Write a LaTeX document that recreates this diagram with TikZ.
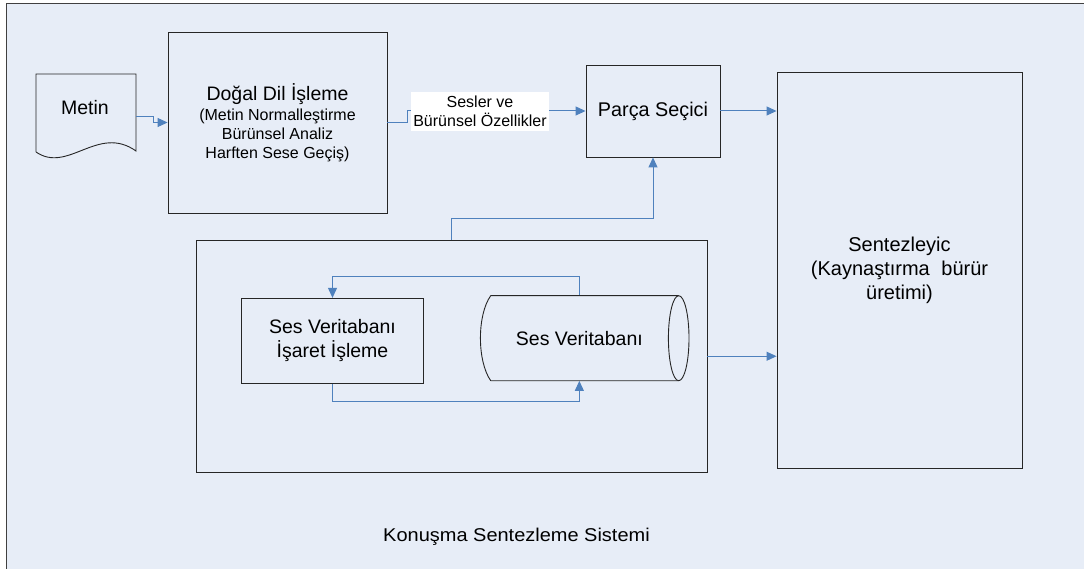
\documentclass[tikz,border=0pt]{standalone}
\usepackage{fontspec}
\setmainfont{Liberation Sans}
\usetikzlibrary{arrows.meta,calc}
\definecolor{bgblue}{RGB}{231,237,247}
\definecolor{lineblue}{RGB}{79,129,189}
\begin{document}
\begin{tikzpicture}[x=1pt,y=-1pt,
  box/.style={draw=black!85,line width=0.9pt,rectangle,inner sep=0pt,align=center},
  shapeline/.style={draw=black!85,line width=0.9pt},
  arr/.style={draw=lineblue,line width=1pt,-{Triangle[length=10pt,width=9pt]}},
  bigtxt/.style={font=\fontsize{19.5}{24}\selectfont},
  smalltxt/.style={font=\fontsize{16}{18.5}\selectfont}]
\useasboundingbox (0,0) rectangle (1084,569);
\fill[white] (0,0) rectangle (1084,569);
\fill[bgblue] (6,3.7) rectangle (1084,569);
\draw[black!75,line width=1.3pt] (6.2,569) -- (6.2,3.7) -- (1084,3.7);

% Metin document
\draw[shapeline] (36,152) -- (36,74) -- (136,74) -- (136,151) .. controls (98,124) and (68,174) .. (36,152);
\node[bigtxt,anchor=base] (metin) at (85,115) {Metin};
\coordinate (metinR) at (136,117);

% Natural language processing
\node[box,minimum width=219pt,minimum height=181pt,font=\fontsize{16}{19}\selectfont] (nlp) at (277.5,122.5)
  {{\fontsize{19.5}{19}\selectfont Doğal Dil İşleme}\\[1.5pt](Metin Normalleştirme\\Bürünsel Analiz\\Harften Sese Geçiş)};

% Parca secici
\node[box,minimum width=134pt,minimum height=92pt,font=\fontsize{19.8}{24}\selectfont] (parca) at (653,111) {Parça Seçici};

% Sentezleyici
\node[box,minimum width=245pt,minimum height=396pt,font=\fontsize{20}{24}\selectfont] (sentez) at (899.5,270)
  {Sentezleyic\\(Kaynaştırma\hspace{0.3em} bürür\\üretimi)};

% Bottom container
\node[box,minimum width=511pt,minimum height=231.5pt] (outer) at (451.5,356.25) {};
\node[box,minimum width=181.6pt,minimum height=85pt,font=\fontsize{19.5}{24}\selectfont] (isaret) at (332.5,340.8)
  {Ses Veritabanı\\İşaret İşleme};

% Cylinder database
\draw[shapeline] (490.7,295.7) -- (678.7,295.7) (490.7,380.7) -- (678.7,380.7)
  (490.7,295.7) .. controls (477,315) and (477,361) .. (490.7,380.7);
\draw[shapeline] (678.7,338.2) ellipse [x radius=10.3pt, y radius=42.5pt];
\node[inner sep=0pt,minimum width=198.7pt,minimum height=85pt,font=\fontsize{19.5}{24}\selectfont] (db) at (579.35,338.2) {Ses Veritabanı};

% Connectors
\draw[arr] (metinR) -- ++(17,0) |- (nlp.west);
\draw[arr] (nlp.east) -- ++(20,0) |- (parca.west);
\node[fill=white,minimum width=138pt,minimum height=39pt,inner sep=0pt,align=center,smalltxt] (ozellik) at (480,111.5)
  {Sesler ve\\Bürünsel Özellikler};
\draw[arr] (parca.east) -- (parca.east -| sentez.west);
\draw[arr] (outer.north) -- ++(0,-21.5) -| (parca.south);
\draw[arr] (outer.east) -- (outer.east -| sentez.west);
\draw[arr] (db.north) -- ++(0,-18.7) -| (isaret.north);
\draw[arr] (isaret.south) -- ++(0,17.7) -| (db.south);

% Title
\node[anchor=base,font=\fontsize{18.5}{22}\selectfont] (title) at (516.5,541.7) {\scalebox{1.08}[1]{Konuşma Sentezleme Sistemi}};
\end{tikzpicture}
\end{document}
